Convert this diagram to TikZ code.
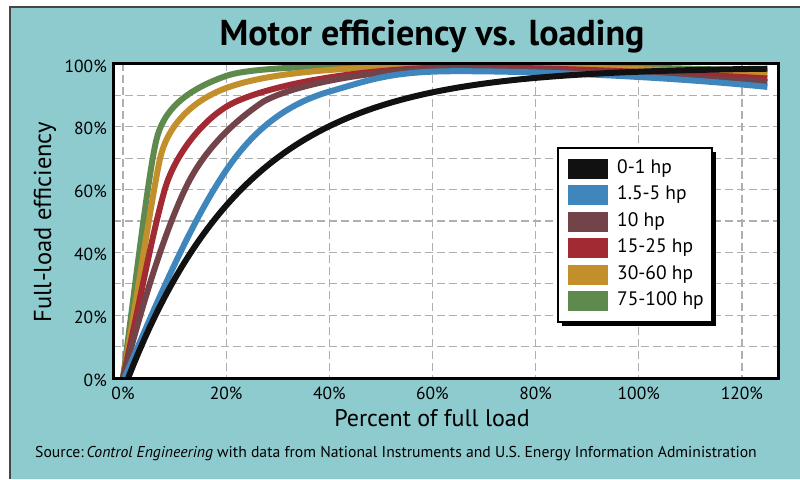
\documentclass[tikz,border=0pt]{standalone}
\usepackage{fontspec}
\setmainfont{PT Sans}
\definecolor{teal}{RGB}{142,203,207}
\definecolor{edgegray}{RGB}{70,70,70}
\definecolor{gridgray}{RGB}{175,175,175}
\definecolor{cblack}{RGB}{17,17,17}
\definecolor{cblue}{RGB}{63,134,188}
\definecolor{cbrown}{RGB}{115,67,74}
\definecolor{cred}{RGB}{162,42,51}
\definecolor{cgold}{RGB}{195,143,42}
\definecolor{cgreen}{RGB}{94,138,78}
\begin{document}
\begin{tikzpicture}[x=1pt,y=-1pt,
  gridline/.style={draw=gridgray, line width=1.3pt, dash pattern=on 8pt off 4pt},
  curve/.style={line width=6pt, line join=round},
  ticklab/.style={font=\fontsize{17.5}{19}\selectfont, inner sep=0pt},
  swatch/.style={minimum width=40pt, minimum height=20pt, inner sep=0pt, anchor=west, draw=none},
  legtext/.style={anchor=west, font=\fontsize{19.5}{22}\selectfont, inner sep=0pt}]
\useasboundingbox (0,0) rectangle (800,479);
\fill[white] (0,0) rectangle (800,479);
% teal panel
\fill[teal] (10,7) rectangle (800,479);
\draw[edgegray, line width=1.5pt] (10,479) -- (10,7) -- (800,7);
% title
\node[font=\bfseries\fontsize{36}{40}\selectfont, inner sep=0pt] (title) at (432,37) {Motor efficiency vs. loading};
% plot area
\fill[white] (113,63) rectangle (778,378);
\foreach \k in {0,...,6} \draw[gridline] ({123+103.15*\k},63) -- ({123+103.15*\k},378);
\foreach \k in {1,...,9} \draw[gridline] (113,{378-31.4*\k}) -- (778,{378-31.4*\k});
% curves (data coordinates: percent of load, percent efficiency)
\begin{scope}[shift={(123,378)}, x=5.155pt, y=3.14pt]
\draw[curve, cgreen] (0,0) .. controls (2.5,31) and (5,66) .. (6.5,76)
  .. controls (7.7,84) and (11,91) .. (20,96.2)
  .. controls (24,98.5) and (35,99.6) .. (60,99.6)
  .. controls (85,99.6) and (105,98.8) .. (125,97.8);
\draw[curve, cgold] (0,0) .. controls (3,28) and (5.6,58) .. (7.2,70)
  .. controls (8.5,79.6) and (13,88.5) .. (20.8,92.8)
  .. controls (28,96.8) and (40,99) .. (60,99.3)
  .. controls (75,99.5) and (100,98.6) .. (125,97);
\draw[curve, cred] (0,0) .. controls (3,22) and (5.5,45) .. (8.1,60)
  .. controls (10.1,71.5) and (16,83.4) .. (21.5,87.7)
  .. controls (27,92) and (40,97.5) .. (60,98.8)
  .. controls (72,99.5) and (100,97.8) .. (125,95.4);
\draw[curve, cbrown] (0,0) .. controls (4,25) and (8,46) .. (12,60)
  .. controls (15,70.5) and (20,80) .. (27.2,88)
  .. controls (32,92.5) and (45,97.6) .. (60,98.3)
  .. controls (70,98.77) and (100,97) .. (125,94.2);
\draw[curve, cblue] (0.3,0) .. controls (6,22) and (12,45) .. (18,61)
  .. controls (22,71.7) and (28,85.5) .. (40,91.2)
  .. controls (48,95) and (52,97.6) .. (64,97.7)
  .. controls (80,97.8) and (105,96) .. (125,92.7);
\draw[curve, cblack] plot[domain=1:125, samples=120, smooth] (\x, {99*(1-exp(-(\x-1)/23.5))});
\end{scope}
% frame
\draw[black, line width=3pt] (113,63) rectangle (778,378);
% y tick labels
\foreach \v [count=\i from 0] in {0,20,40,60,80,100}
  \node[ticklab, anchor=east] (yt\i) at (107,{380-62.8*\i}) {\v\%};
% x tick labels
\foreach \v [count=\i from 0] in {0,20,40,60,80,100,120}
  \node[ticklab] (xt\i) at ({123+103.15*\i},393) {\v\%};
% axis titles
\node[font=\fontsize{24}{27}\selectfont, inner sep=0pt] (xlab) at (432,418) {Percent of full load};
\node[font=\fontsize{24.5}{27}\selectfont, inner sep=0pt, rotate=90] (ylab) at (45,222) {Full-load efficiency};
% source
\node[font=\fontsize{15.7}{18}\selectfont, inner sep=0pt, anchor=west] (src) at (35,454) {Source:\,\textit{Control Engineering} with data from National Instruments and U.S. Energy Information Administration};
% legend
\fill[black] (562,152) rectangle (716,326);
\draw[black, fill=white, line width=1.3pt] (558,148) rectangle (712,322);
\foreach \c/\t [count=\i from 0] in {cblack/0-1 hp, cblue/1.5-5 hp, cbrown/10 hp, cred/15-25 hp, cgold/30-60 hp, cgreen/75-100 hp} {
  \node[swatch, fill=\c] (sw\i) at (568,{168.5+26.5*\i}) {};
  \node[legtext] (lt\i) at (617,{168.5+26.5*\i}) {\t};
}
\end{tikzpicture}
\end{document}
